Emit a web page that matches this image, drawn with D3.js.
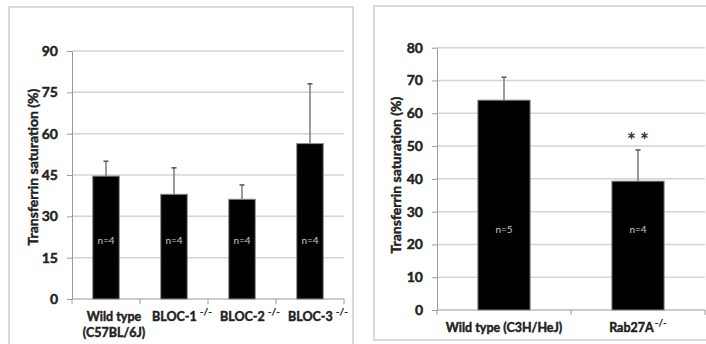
<!DOCTYPE html>
<html>
<head>
<meta charset="utf-8">
<script src="https://cdn.jsdelivr.net/npm/d3@7"></script>
<style>
  body { margin: 0; background: #fff; }
  svg { display: block; font-family: Lato, "Open Sans", sans-serif; }
  .heavy { stroke: #222; stroke-width: 0.45px; paint-order: stroke; }
</style>
</head>
<body>
<svg width="706" height="344"></svg>
<script>
// left panel: Hermansky-Pudlak BLOC mutants
const leftGroups = ["Wild type", "BLOC-1", "BLOC-2", "BLOC-3"];
const leftSubLines = ["(C57BL/6J)", "", "", ""];
const leftSup = ["", "-/-", "-/-", "-/-"];
const leftMeans = [44.6, 38.0, 36.2, 56.4];
const leftErr = [5.4, 9.6, 5.2, 21.7];
const leftN = ["n=4", "n=4", "n=4", "n=4"];
const leftStars = ["", "", "", ""];
const leftTicks = [0, 15, 30, 45, 60, 75, 90];

// right panel: Rab27A
const rightGroups = ["Wild type (C3H/HeJ)", "Rab27A"];
const rightSubLines = ["", ""];
const rightSup = ["", "-/-"];
const rightMeans = [64.0, 39.3];
const rightErr = [7.0, 9.5];
const rightN = ["n=5", "n=4"];
const rightStars = ["", "**"];
const rightTicks = [0, 10, 20, 30, 40, 50, 60, 70, 80];

const yTitle = "Transferrin saturation (%)";

const svg = d3.select("svg");
svg.append("rect").attr("width", 706).attr("height", 344).attr("fill", "#fff");

function drawPanel(cfg) {
  const g = svg.append("g");

  // outer frame
  g.append("rect")
    .attr("x", cfg.frame[0]).attr("y", cfg.frame[1])
    .attr("width", cfg.frame[2]).attr("height", cfg.frame[3])
    .attr("fill", "none").attr("stroke", "#cfcfcf").attr("stroke-width", 1.5);

  const data = cfg.groups.map((d, i) => ({
    name: d, sub: cfg.sub[i], sup: cfg.sup[i],
    mean: cfg.means[i], err: cfg.err[i], n: cfg.n[i], star: cfg.stars[i]
  }));

  const x = d3.scaleBand().domain(cfg.groups).range([cfg.left, cfg.right]).paddingInner(0).paddingOuter(0);
  const y = d3.scaleLinear().domain([0, d3.max(cfg.ticks)]).range([cfg.bottom, cfg.top]);

  // gridlines
  g.selectAll(".grid").data(cfg.ticks.filter(t => t > 0)).join("line")
    .attr("x1", cfg.left).attr("x2", cfg.right)
    .attr("y1", d => y(d)).attr("y2", d => y(d))
    .attr("stroke", "#d4d4d4").attr("stroke-width", 1.5);

  // y axis
  const yAxis = g.append("g")
    .attr("transform", `translate(${cfg.left},0)`)
    .call(d3.axisLeft(y).tickValues(cfg.ticks).tickSize(5).tickPadding(9).tickSizeOuter(0));
  yAxis.select(".domain").attr("stroke", "#9a9a9a");
  yAxis.selectAll(".tick line").attr("stroke", "#9a9a9a");
  yAxis.selectAll(".tick text")
    .attr("class", "heavy")
    .attr("font-family", "Lato, sans-serif").attr("font-size", 14)
    .attr("font-weight", "bold").attr("fill", "#222");

  // x axis line and boundary ticks
  g.append("line")
    .attr("x1", cfg.left).attr("x2", cfg.right)
    .attr("y1", y(0)).attr("y2", y(0))
    .attr("stroke", "#9a9a9a");
  const bounds = cfg.groups.map(d => x(d)).concat([cfg.right]);
  g.selectAll(".xt").data(bounds).join("line")
    .attr("x1", d => d).attr("x2", d => d)
    .attr("y1", y(0)).attr("y2", y(0) + 5)
    .attr("stroke", "#9a9a9a");

  const bw = x.bandwidth() * 0.39;
  const cx = d => x(d.name) + x.bandwidth() / 2;

  // error bars (upper only)
  g.selectAll(".err").data(data).join("line")
    .attr("x1", cx).attr("x2", cx)
    .attr("y1", d => y(d.mean)).attr("y2", d => y(d.mean + d.err))
    .attr("stroke", "#7a7a7a").attr("stroke-width", 1.5);
  g.selectAll(".cap").data(data).join("line")
    .attr("x1", d => cx(d) - 2.5).attr("x2", d => cx(d) + 2.5)
    .attr("y1", d => y(d.mean + d.err)).attr("y2", d => y(d.mean + d.err))
    .attr("stroke", "#555").attr("stroke-width", 1.5);

  // bars
  g.selectAll(".bar").data(data).join("rect")
    .attr("x", d => cx(d) - bw / 2).attr("width", bw)
    .attr("y", d => y(d.mean)).attr("height", d => y(0) - y(d.mean))
    .attr("fill", "#000").attr("stroke", "#8a8a8a").attr("stroke-width", 1);

  // n labels inside bars
  g.selectAll(".nlab").data(data).join("text")
    .attr("x", cx).attr("y", y(cfg.nAt) + 3)
    .attr("text-anchor", "middle")
    .attr("font-size", 10).attr("fill", "#c8c8c8")
    .text(d => d.n);

  // significance stars
  g.selectAll(".star").data(data.filter(d => d.star)).join("text")
    .attr("x", cx).attr("y", d => y(d.mean + d.err) - 2)
    .attr("text-anchor", "middle")
    .attr("font-size", 21).attr("font-weight", "bold").attr("fill", "#333")
    .attr("letter-spacing", 4)
    .attr("dx", 2)
    .text(d => d.star);

  // category labels
  const lab = g.selectAll(".xlab").data(data).join("text")
    .attr("class", "heavy")
    .attr("x", d => cx(d) + cfg.labelDx)
    .attr("y", y(0) + 22)
    .attr("text-anchor", "middle")
    .attr("font-size", 12.5).attr("font-weight", "bold").attr("fill", "#222");
  lab.append("tspan").text(d => d.name);
  lab.filter(d => d.sup).append("tspan")
    .attr("dy", -6).attr("dx", cfg.supGap).attr("font-size", 10)
    .attr("stroke-width", 0.2)
    .text(d => d.sup);
  g.selectAll(".xlab2").data(data.filter(d => d.sub)).join("text")
    .attr("class", "heavy")
    .attr("x", d => cx(d) + cfg.labelDx)
    .attr("y", y(0) + 38)
    .attr("text-anchor", "middle")
    .attr("font-size", 12.5).attr("font-weight", "bold").attr("fill", "#222")
    .text(d => d.sub);

  // y title
  g.append("text")
    .attr("class", "heavy")
    .attr("transform", `translate(${cfg.titleX},${cfg.titleY}) rotate(-90)`)
    .attr("text-anchor", "middle")
    .attr("font-size", 14).attr("font-weight", "bold").attr("fill", "#222")
    .text(yTitle);
}

drawPanel({
  frame: [9, 7, 344, 360],
  groups: leftGroups, sub: leftSubLines, sup: leftSup,
  means: leftMeans, err: leftErr, n: leftN, stars: leftStars, ticks: leftTicks,
  left: 72, right: 344, top: 51, bottom: 299,
  nAt: 21, labelDx: 8, supGap: 3,
  titleX: 38, titleY: 167
});

drawPanel({
  frame: [374, 6, 360, 334],
  groups: rightGroups, sub: rightSubLines, sup: rightSup,
  means: rightMeans, err: rightErr, n: rightN, stars: rightStars, ticks: rightTicks,
  left: 437, right: 705, top: 47.7, bottom: 310,
  nAt: 24.5, labelDx: 0, supGap: 1,
  titleX: 401, titleY: 175
});
</script>
</body>
</html>
